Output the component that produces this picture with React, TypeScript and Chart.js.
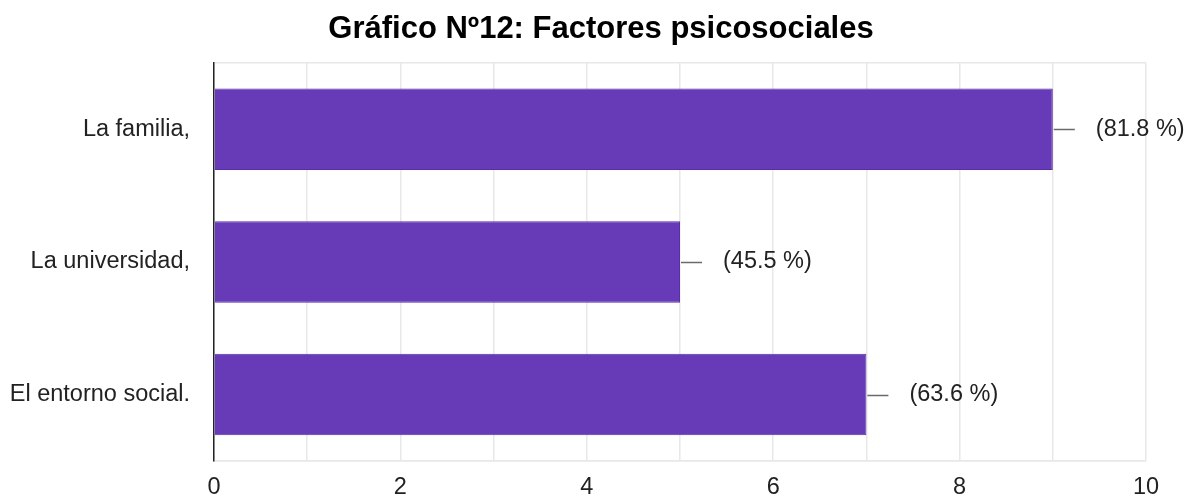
import React, { useEffect, useRef } from "react";
import { Chart, registerables } from "chart.js";

Chart.register(...registerables);

const TITLE = "Gráfico Nº12: Factores psicosociales";
const categories = ["La familia,", "La universidad,", "El entorno social."];
const counts = [9, 5, 7];
const percentLabels = ["(81.8 %)", "(45.5 %)", "(63.6 %)"];
const xMin = 0;
const xMax = 10;

const FONT = "'Liberation Sans', Arial, Helvetica, sans-serif";
const TEXT = "#222222";
const BAR = "#673ab7";
const GRID = "#e8e8e8";

const leaderPlugin = {
  id: "leaderLabels",
  afterDatasetsDraw(chart: any) {
    const meta = chart.getDatasetMeta(0);
    const ctx = chart.ctx;
    ctx.save();
    meta.data.forEach((bar: any, i: number) => {
      const x = bar.x;
      const y = Math.round(bar.y) + 0.5;
      ctx.strokeStyle = "#6a6a6a";
      ctx.lineWidth = 1.5;
      ctx.beginPath();
      ctx.moveTo(x + 1, y);
      ctx.lineTo(x + 22, y);
      ctx.stroke();
      ctx.fillStyle = TEXT;
      ctx.font = `23.5px ${FONT}`;
      ctx.textAlign = "left";
      ctx.textBaseline = "middle";
      ctx.fillText(percentLabels[i], x + 43, bar.y);
    });
    ctx.restore();
  },
};

const titlePlugin = {
  id: "offsetTitle",
  afterDraw(chart: any) {
    const ctx = chart.ctx;
    ctx.save();
    ctx.fillStyle = "#000000";
    ctx.font = `bold 31px ${FONT}`;
    ctx.textAlign = "center";
    ctx.textBaseline = "middle";
    ctx.fillText(TITLE, 601, 29);
    ctx.restore();
  },
};

export default function App() {
  const ref = useRef<HTMLCanvasElement | null>(null);

  useEffect(() => {
    if (!ref.current) return;
    const chart = new Chart(ref.current, {
      type: "bar",
      data: {
        labels: categories,
        datasets: [
          {
            data: counts,
            backgroundColor: BAR,
            borderColor: "#5a2fa6",
            borderWidth: 1,
            categoryPercentage: 1,
            barPercentage: 0.615,
          },
        ],
      },
      options: {
        indexAxis: "y",
        animation: false,
        responsive: false,
        devicePixelRatio: 1,
        layout: { padding: { left: 0, right: 41, top: 63, bottom: 0 } },
        plugins: {
          legend: { display: false },
          tooltip: { enabled: false },
          title: { display: false },
        },
        scales: {
          x: {
            type: "linear",
            min: xMin,
            max: xMax,
            afterFit: (s: any) => {
              s.height = 36;
            },
            ticks: {
              stepSize: 1,
              padding: 13,
              color: TEXT,
              font: { family: FONT, size: 23.5 },
              callback: (v: any) => (Number(v) % 2 === 0 ? String(v) : ""),
              maxRotation: 0,
              autoSkip: false,
            },
            grid: { color: GRID, lineWidth: 1.5, drawTicks: false },
            border: { display: true, color: GRID, width: 1.5 },
          },
          y: {
            afterFit: (s: any) => {
              s.width = 214;
            },
            ticks: {
              padding: 24,
              color: TEXT,
              font: { family: FONT, size: 23.5 },
            },
            grid: {
              drawTicks: false,
              lineWidth: 1.5,
              color: (c: any) =>
                c.type === "scale" || c.index === 0 ? GRID : "rgba(0,0,0,0)",
            },
            border: { display: true, color: "#222222", width: 1.5 },
          },
        },
      },
      plugins: [leaderPlugin, titlePlugin],
    });
    return () => chart.destroy();
  }, []);

  return (
    <div style={{ position: "absolute", left: 0, top: 0, width: 1187, height: 499, background: "#ffffff" }}>
      <canvas ref={ref} width={1187} height={499} />
    </div>
  );
}
